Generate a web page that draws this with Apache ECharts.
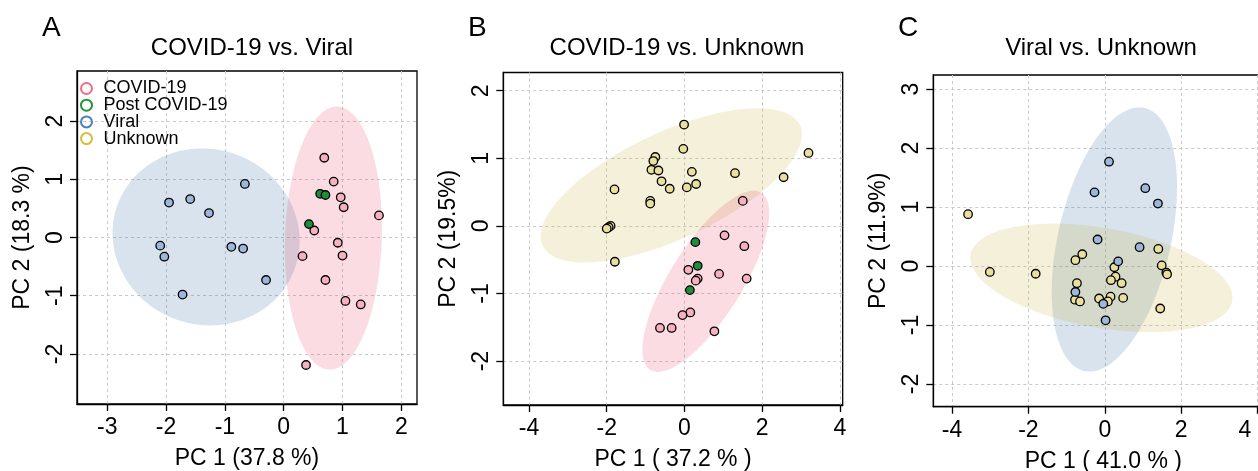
<!DOCTYPE html>
<html><head><meta charset="utf-8">
<script src="https://cdn.jsdelivr.net/npm/echarts@6/dist/echarts.min.js"></script>
<style>html,body{margin:0;padding:0;background:#fff}#c{width:1258px;height:471px}</style>
</head><body><div id="c"></div>
<script>
// ---------- text ----------
const groups = ['COVID-19', 'Post COVID-19', 'Viral', 'Unknown'];
const panelLetters = ['A', 'B', 'C'];
const panelTitles = ['COVID-19 vs. Viral', 'COVID-19 vs. Unknown', 'Viral vs. Unknown'];
const xTitles = ['PC 1 (37.8 %)', 'PC 1 ( 37.2 % )', 'PC 1 ( 41.0 % )'];
const yTitles = ['PC 2 (18.3 %)', 'PC 2 (19.5%)', 'PC 2 (11.9%)'];

// ---------- tick labels ----------
const xTicksA = [-3, -2, -1, 0, 1, 2];
const yTicksA = [-2, -1, 0, 1, 2];
const xTicksB = [-4, -2, 0, 2, 4];
const yTicksB = [-2, -1, 0, 1, 2];
const xTicksC = [-4, -2, 0, 2, 4];
const yTicksC = [-2, -1, 0, 1, 2, 3];

// ---------- axis limits ----------
const xLimA = [-3.515, 2.267], yLimA = [-2.86, 2.86];
const xLimB = [-4.66, 4.07],  yLimB = [-2.65, 2.27];
const xLimC = [-4.49, 4.41],  yLimC = [-2.385, 3.24];

// ---------- Panel A : COVID-19 vs. Viral ----------
const aCovid = [[0.69,1.37],[0.85,0.96],[0.97,0.69],[1.02,0.52],[1.62,0.38],[0.52,0.12],[0.92,-0.09],[0.32,-0.32],[1.00,-0.31],[0.71,-0.73],[1.05,-1.09],[1.31,-1.15],[0.38,-2.19]];
const aPost = [[0.62,0.75],[0.71,0.73],[0.43,0.23]];
const aViral = [[-0.66,0.92],[-1.95,0.60],[-1.59,0.66],[-1.27,0.42],[-2.10,-0.14],[-2.03,-0.33],[-0.89,-0.16],[-0.69,-0.19],[-0.30,-0.73],[-1.72,-0.98]];
// ellipses: [centre x, centre y, horizontal half-extent, vertical half-extent, x-shift of top point]
const aEllViral = [-1.32, 0.01, 1.59, 1.52, -0.07];
const aEllCovid = [0.845, -0.01, 0.825, 2.26, 0.06];

// ---------- Panel B : COVID-19 vs. Unknown ----------
const bUnknown = [[-0.01,1.50],[-0.03,1.14],[3.19,1.08],[-0.75,1.02],[-0.80,0.96],[-0.85,0.83],[-0.67,0.82],[0.19,0.80],[1.30,0.78],[2.55,0.72],[-0.59,0.66],[0.30,0.62],[-0.38,0.55],[0.06,0.57],[-1.80,0.54],[-0.88,0.37],[-0.88,0.33],[-1.90,0.00],[-1.95,-0.02],[-2.00,-0.04],[-1.79,-0.53]];
const bCovid = [[1.50,0.37],[1.03,-0.14],[1.54,-0.30],[0.10,-0.65],[0.89,-0.71],[1.60,-0.78],[0.34,-0.78],[0.29,-0.81],[0.15,-1.28],[-0.05,-1.32],[-0.63,-1.51],[-0.33,-1.51],[0.77,-1.56]];
const bPost = [[0.28,-0.24],[0.34,-0.59],[0.14,-0.95]];
const bEllUnknown = [-0.34, 0.60, 3.36, 1.14, 2.22];
const bEllCovid = [0.55, -0.82, 1.63, 1.34, 1.23];

// ---------- Panel C : Viral vs. Unknown ----------
const cViral = [[0.11,1.77],[-0.27,1.25],[1.06,1.32],[1.39,1.06],[-0.19,0.45],[0.91,0.32],[0.35,0.08],[-0.77,-0.44],[-0.04,-0.64],[0.02,-0.92]];
const cUnknown = [[-3.58,0.88],[-3.01,-0.10],[-1.81,-0.13],[-0.59,0.20],[-0.77,0.10],[1.40,0.29],[0.25,-0.02],[1.49,0.01],[1.61,-0.11],[1.63,-0.14],[0.28,-0.18],[0.16,-0.24],[0.44,-0.29],[-0.73,-0.29],[-0.78,-0.57],[-0.65,-0.60],[-0.15,-0.55],[0.15,-0.52],[0.08,-0.60],[0.48,-0.54],[1.45,-0.72]];
const cEllViral = [0.25, 0.45, 1.64, 2.24, 0.65];
const cEllUnknown = [-0.09, -0.20, 3.43, 0.92, -1.26];

// ---------- styling ----------
const FONT = '"Liberation Sans", Arial, Helvetica, sans-serif';
const pointFill = {'COVID-19': '#F5B1BD', 'Post COVID-19': '#1F8E3C', 'Viral': '#9CB7D9', 'Unknown': '#E9DF9F'};
const ringColor = {'COVID-19': '#F06E80', 'Post COVID-19': '#23963F', 'Viral': '#4A7FC0', 'Unknown': '#D6BF3A'};
const ellFill = {'COVID-19': 'rgba(228,70,100,0.19)', 'Viral': 'rgba(50,105,160,0.19)', 'Unknown': 'rgba(196,176,52,0.19)'};

const grids = [
  {left: 77, top: 71, width: 340, height: 333},
  {left: 503.3, top: 72.5, width: 339.4, height: 332.5},
  {left: 933.3, top: 75, width: 340, height: 331.7}
];
const letterX = [37, 463, 893];
const titleX = [247, 672, 1096];

function xAxisCfg(gi, lim, ticks, name) {
  const lastTick = ticks[ticks.length - 1];
  const label = {customValues: ticks, fontSize: 23, color: '#000', margin: 12, fontFamily: FONT};
  if (gi === 2) {
    // last label sits at the right edge of the page: nudge it inside the view
    label.formatter = v => (v === lastTick ? String(v) + '\u00a0\u00a0\u00a0\u00a0' : String(v));
  }
  return {
    type: 'value', gridIndex: gi, min: lim[0], max: lim[1], position: 'bottom',
    name: name, nameLocation: 'middle', nameGap: 43,
    nameTextStyle: {fontSize: 23, color: '#000', fontFamily: FONT},
    axisLine: {show: true, onZero: false, lineStyle: {color: '#000', width: 1.3}},
    axisTick: {show: true, inside: false, length: 7, customValues: ticks, lineStyle: {color: '#000', width: 1.3}},
    axisLabel: label,
    splitLine: {show: true, lineStyle: {color: '#c9c9c9', type: [3, 3], width: 1}}
  };
}
function yAxisCfg(gi, lim, ticks, name) {
  return {
    type: 'value', gridIndex: gi, min: lim[0], max: lim[1], position: 'left',
    name: name, nameLocation: 'middle', nameGap: 43, nameRotate: 90,
    nameTextStyle: {fontSize: 23, color: '#000', fontFamily: FONT},
    axisLine: {show: true, onZero: false, lineStyle: {color: '#000', width: 1.3}},
    axisTick: {show: true, inside: false, length: 7, customValues: ticks, lineStyle: {color: '#000', width: 1.3}},
    axisLabel: {customValues: ticks, rotate: 90, fontSize: 23, color: '#000', margin: 10, fontFamily: FONT},
    splitLine: {show: true, lineStyle: {color: '#c9c9c9', type: [3, 3], width: 1}}
  };
}

function ellipseSeries(gi, params, group) {
  return {
    type: 'custom', xAxisIndex: gi, yAxisIndex: gi, silent: true, z: 1,
    data: [params],
    renderItem: function (p, api) {
      const cx = api.value(0), cy = api.value(1), xh = api.value(2), yh = api.value(3), dx = api.value(4);
      const ax = Math.sqrt(Math.max(xh * xh - dx * dx, 0));
      const pts = [];
      const N = 160;
      for (let i = 0; i < N; i++) {
        const t = i / N * 2 * Math.PI;
        pts.push(api.coord([cx + ax * Math.cos(t) + dx * Math.sin(t), cy + yh * Math.sin(t)]));
      }
      return {type: 'polygon', shape: {points: pts}, style: {fill: ellFill[group], stroke: null}};
    }
  };
}
function pointSeries(gi, data, group) {
  return {
    type: 'scatter', name: group, xAxisIndex: gi, yAxisIndex: gi, data: data, z: 3,
    symbol: 'circle', symbolSize: 8.5,
    itemStyle: {color: pointFill[group], borderColor: '#000', borderWidth: 1.3, opacity: 1},
    emphasis: {disabled: true}
  };
}

const titles = [];
for (let i = 0; i < 3; i++) {
  titles.push({text: panelLetters[i], left: letterX[i], top: 9, textAlign: 'left',
    textStyle: {fontSize: 28, fontWeight: 'normal', color: '#000', fontFamily: FONT}});
  titles.push({text: panelTitles[i], left: titleX[i], top: 31, textAlign: 'center',
    textStyle: {fontSize: 24, fontWeight: 'normal', color: '#000', fontFamily: FONT}});
}

const option = {
  backgroundColor: '#fff',
  animation: false,
  title: titles,
  legend: {
    orient: 'vertical', left: 75, top: 74.5, itemGap: -1.3, itemWidth: 24, itemHeight: 11,
    selectedMode: false,
    textStyle: {fontSize: 18, color: '#000', fontFamily: FONT},
    data: groups.map(g => ({name: g, icon: 'circle',
      itemStyle: {color: 'rgba(255,255,255,0)', borderColor: ringColor[g], borderWidth: 2}}))
  },
  grid: grids.map(g => Object.assign({show: true, borderColor: '#000', borderWidth: 1.3, backgroundColor: 'rgba(0,0,0,0)', containLabel: false, outerBoundsMode: 'none'}, g)),
  xAxis: [xAxisCfg(0, xLimA, xTicksA, xTitles[0]), xAxisCfg(1, xLimB, xTicksB, xTitles[1]), xAxisCfg(2, xLimC, xTicksC, xTitles[2])],
  yAxis: [yAxisCfg(0, yLimA, yTicksA, yTitles[0]), yAxisCfg(1, yLimB, yTicksB, yTitles[1]), yAxisCfg(2, yLimC, yTicksC, yTitles[2])],
  series: [
    ellipseSeries(0, aEllViral, 'Viral'),
    ellipseSeries(0, aEllCovid, 'COVID-19'),
    pointSeries(0, aViral, 'Viral'),
    pointSeries(0, aCovid, 'COVID-19'),
    pointSeries(0, aPost, 'Post COVID-19'),
    ellipseSeries(1, bEllUnknown, 'Unknown'),
    ellipseSeries(1, bEllCovid, 'COVID-19'),
    pointSeries(1, bUnknown, 'Unknown'),
    pointSeries(1, bCovid, 'COVID-19'),
    pointSeries(1, bPost, 'Post COVID-19'),
    ellipseSeries(2, cEllViral, 'Viral'),
    ellipseSeries(2, cEllUnknown, 'Unknown'),
    pointSeries(2, cUnknown, 'Unknown'),
    pointSeries(2, cViral, 'Viral')
  ]
};
const chart = echarts.init(document.getElementById('c'), null, {renderer: 'canvas'});
chart.setOption(option);
</script>
</body></html>
